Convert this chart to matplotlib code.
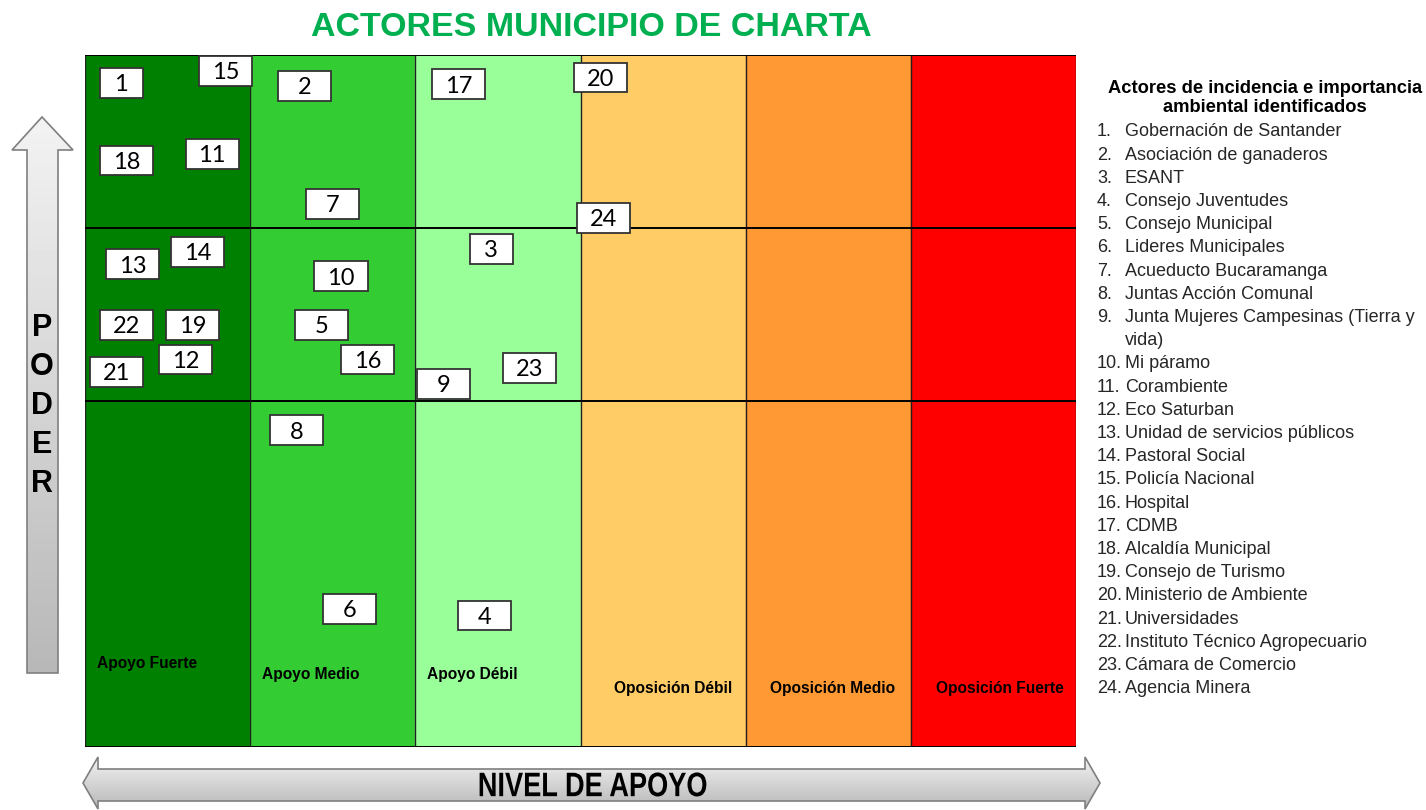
"""
Mapa de actores: poder vs nivel de apoyo, municipio de Charta.
"""

import numpy as np
import matplotlib
matplotlib.use('Agg')
import matplotlib.pyplot as plt
from matplotlib.patches import Rectangle, Polygon, PathPatch
from matplotlib.textpath import TextPath
from matplotlib.font_manager import FontProperties
from matplotlib.transforms import Affine2D

# columnas (nivel de apoyo) y sus colores
niveles = ['Apoyo Fuerte', 'Apoyo Medio', 'Apoyo Débil',
           'Oposición Débil', 'Oposición Medio', 'Oposición Fuerte']
colores = ['#008000', '#33CC33', '#99FF99', '#FFCC66', '#FF9933', '#FF0000']

# cortes de poder (filas): 0-2 bajo, 2-3 medio, 3-4 alto
cortes_poder = [2, 3]

# actores: numero, posicion en apoyo (0-6) y poder (0-4)
actor_id = list(range(1, 25))
apoyo = [0.22, 1.33, 2.46, 2.42, 1.43, 1.60, 1.50, 1.28, 2.17, 1.55, 0.77, 0.61,
         0.29, 0.68, 0.85, 1.71, 2.26, 0.25, 0.65, 3.12, 0.19, 0.25, 2.69, 3.14]
poder = [3.84, 3.82, 2.88, 0.76, 2.44, 0.80, 3.14, 1.83, 2.10, 2.72, 3.43, 2.24,
         2.79, 2.86, 3.91, 2.24, 3.83, 3.39, 2.44, 3.87, 2.17, 2.44, 2.19, 3.06]

actores = ['Gobernación de Santander', 'Asociación de ganaderos', 'ESANT',
           'Consejo Juventudes', 'Consejo Municipal', 'Lideres Municipales',
           'Acueducto Bucaramanga', 'Juntas Acción Comunal',
           'Junta Mujeres Campesinas (Tierra y\nvida)', 'Mi páramo', 'Corambiente',
           'Eco Saturban', 'Unidad de servicios públicos', 'Pastoral Social',
           'Policía Nacional', 'Hospital', 'CDMB', 'Alcaldía Municipal',
           'Consejo de Turismo', 'Ministerio de Ambiente', 'Universidades',
           'Instituto Técnico Agropecuario', 'Cámara de Comercio', 'Agencia Minera']

# estilo / layout
W, H = 1426, 810
label_dx = [0.07, 0.07, 0.07, 0.20, 0.15, 0.15]   # desplazamiento de la etiqueta en la columna
label_y = [0.48, 0.42, 0.42, 0.34, 0.34, 0.34]
box_w, box_w_narrow, box_h = 0.321, 0.26, 0.173
narrow = {1, 3}

plt.rcParams['font.family'] = ['Liberation Sans', 'DejaVu Sans']

fig = plt.figure(figsize=(W / 100, H / 100), dpi=100)

ax = fig.add_axes([85 / W, (H - 747) / H, 991 / W, 692 / H])
ax.set_xlim(0, len(niveles))
ax.set_ylim(0, 4)
ax.axis('off')

# overlay in pixel coords for arrows, title and the list (drawn on top)
bg = fig.add_axes([0, 0, 1, 1])
bg.set_xlim(0, W)
bg.set_ylim(H, 0)
bg.axis('off')
bg.set_zorder(2)


def narrow_text(x, y, s, size_px, stretch, color='black'):
    """Condensed bold text drawn as a path (no narrow font installed). x, y in pixels."""
    tp = TextPath((0, 0), s, size=size_px,
                  prop=FontProperties(family='Liberation Sans', weight='bold'))
    ext = tp.get_extents()
    cap = size_px * 0.716
    tr = Affine2D().translate(-ext.x0 - ext.width / 2, -cap / 2).scale(stretch, -1).translate(x, y)
    bg.add_patch(PathPatch(tr.transform_path(tp), facecolor=color, edgecolor='none',
                           zorder=5, clip_on=False))


for i, (nivel, c) in enumerate(zip(niveles, colores)):
    ax.axvspan(i, i + 1, color=c, zorder=0)
    ax.text(i + label_dx[i], label_y[i], nivel, fontsize=11.2, fontweight='bold',
            ha='left', va='center', color='black', zorder=2)
for i in range(len(niveles) + 1):
    ax.axvline(i, color='#202020', lw=1.0, zorder=1)
for yc in cortes_poder + [0, 4]:
    ax.axhline(yc, color='black', lw=1.4, zorder=1)

for n, x, y in zip(actor_id, apoyo, poder):
    bw = box_w_narrow if n in narrow else box_w
    ax.add_patch(Rectangle((x - bw / 2, y - box_h / 2), bw, box_h, facecolor='white',
                           edgecolor='#333333', lw=1.3, zorder=3, clip_on=False))
    ax.text(x, y - 0.01, str(n), fontsize=17, family=['Lato', 'DejaVu Sans'],
            ha='center', va='center', zorder=4, color='black')


def gradient_arrow(pts, x0, x1, y0, y1):
    poly = Polygon(pts, closed=True, facecolor='none', edgecolor='#7f7f7f', lw=1.2, zorder=3)
    bg.add_patch(poly)
    g = np.linspace(0.95, 0.72, 100)
    im = bg.imshow(g[:, None], cmap='gray', vmin=0, vmax=1, extent=(x0, x1, y1, y0),
                   origin='upper', aspect='auto', zorder=2)
    im.set_clip_path(poly)


# flecha vertical PODER
gradient_arrow([(42, 117), (73, 150), (58, 150), (58, 673), (27, 673), (27, 150), (12, 150)],
               12, 73, 117, 673)
for k, letra in enumerate('PODER'):
    bg.text(42, 328 + k * 39, letra, fontsize=22, fontweight='bold', ha='center',
            va='center', color='black', zorder=4)

# flecha horizontal NIVEL DE APOYO
gradient_arrow([(83, 783), (98, 757), (98, 769), (1085, 769), (1085, 757), (1100, 783),
                (1085, 809), (1085, 801), (98, 801), (98, 809)], 83, 1100, 757, 809)
narrow_text(593, 784, 'NIVEL DE APOYO', 34, 0.8)

# titulo
bg.text(591, 28, 'ACTORES MUNICIPIO DE CHARTA', fontsize=24.5, fontweight='bold',
        ha='center', va='center', color='#00B050')

# lista de actores
bg.text(1265, 98, 'Actores de incidencia e importancia\nambiental identificados',
        fontsize=13.2, fontweight='bold', ha='center', va='center', linespacing=1.2,
        color='black')
fila = 0
for n, nombre in zip(actor_id, actores):
    bg.text(1097, 132 + fila * 23.2, f'{n}.', fontsize=13, ha='left', va='center',
            color='#262626')
    for linea in nombre.split('\n'):
        bg.text(1125, 132 + fila * 23.2, linea, fontsize=13, ha='left', va='center',
                color='#262626')
        fila += 1

fig.savefig('out.png', dpi=100)
